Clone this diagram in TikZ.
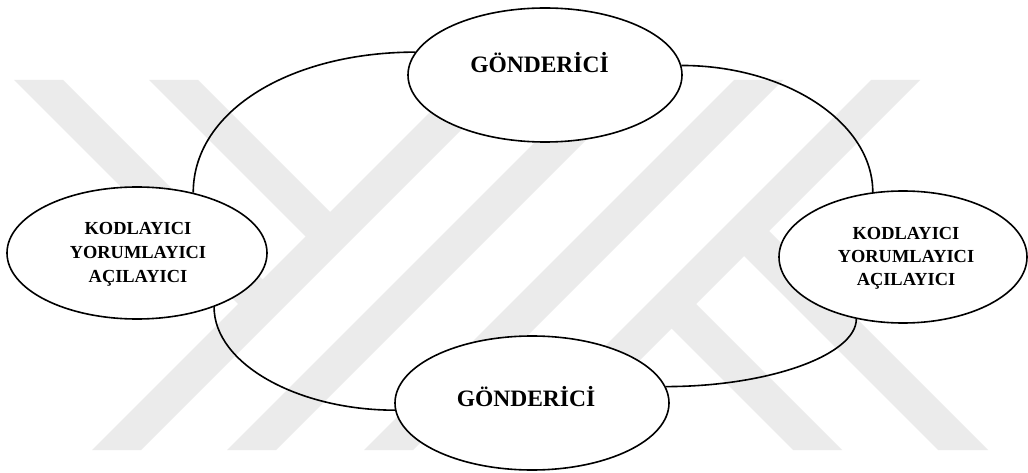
\documentclass[tikz,border=0pt]{standalone}
\usepackage{fontspec}
\setmainfont{Liberation Serif}
\usetikzlibrary{shapes.geometric}
\definecolor{wmgray}{HTML}{EBEBEB}

\begin{document}
\begin{tikzpicture}[x=1pt,y=-1pt,
        bubble/.style={draw, ellipse, fill=white, line width=1.6pt, inner sep=0pt},
        link/.style={line width=1.6pt},
        bigword/.style={font=\fontsize{23.5}{28}\selectfont\bfseries, anchor=base, inner sep=0pt},
        smallword/.style={font=\fontsize{18.4}{22}\selectfont\bfseries, anchor=base, inner sep=0pt}]
        \fill[white] (0,0) rectangle (1028,473);
        \useasboundingbox (0,0) rectangle (1028,473);
        % watermark
        \begin{scope}
            \clip (0,80) rectangle (1028,450);
            \foreach \s in {542,677,814,951}
                \fill[wmgray] (\s-80,80) -- (\s-31,80) -- (\s-401,450) -- (\s-450,450) -- cycle;
            \fill[wmgray] (14,80) -- (63,80) -- (274.5,291.5) -- (250,316) -- cycle;
            \fill[wmgray] (149,80) -- (198,80) -- (342,224) -- (317.5,248.5) -- cycle;
            \fill[wmgray] (659,316) -- (683.5,291.5) -- (842,450) -- (793,450) -- cycle;
            \fill[wmgray] (731.5,243.5) -- (756.5,218.5) -- (988,450) -- (938,450) -- cycle;
        \end{scope}
        % ellipses
        \node[bubble, minimum width=274pt, minimum height=134pt] (gonderUst) at (545,75) {};
        \node[bubble, minimum width=260pt, minimum height=132pt] (kodSol) at (137,253) {};
        \node[bubble, minimum width=248pt, minimum height=132pt] (kodSag) at (903,257) {};
        \node[bubble, minimum width=274pt, minimum height=134pt] (gonderAlt) at (532,403) {};
        % links
        \draw[link] (gonderUst.170) .. controls +(-123,0) and +(0,-83) .. (kodSol.47);
        \draw[link] (gonderUst.4) .. controls +(104,0) and +(0,-70) .. (kodSag.115);
        \draw[link] (kodSol.-35) .. controls +(0,57) and +(-97,0) .. (gonderAlt.183);
        \draw[link] (gonderAlt.7) .. controls +(103,0) and +(0,36) .. (kodSag.233);
        % texts
        \node[bigword] (txtUst) at (539.5,72.5) {GÖNDERİCİ};
        \node[bigword] (txtAlt) at (526,406.7) {GÖNDERİCİ};
        \node[smallword] (solK) at (138,235) {KODLAYICI};
        \node[smallword] (solY) at (138,258.5) {YORUMLAYICI};
        \node[smallword] (solA) at (138,282) {AÇILAYICI};
        \node[smallword] (sagK) at (906,240) {KODLAYICI};
        \node[smallword] (sagY) at (906,262.5) {YORUMLAYICI};
        \node[smallword] (sagA) at (906,285.5) {AÇILAYICI};
    \end{tikzpicture}
\end{document}
